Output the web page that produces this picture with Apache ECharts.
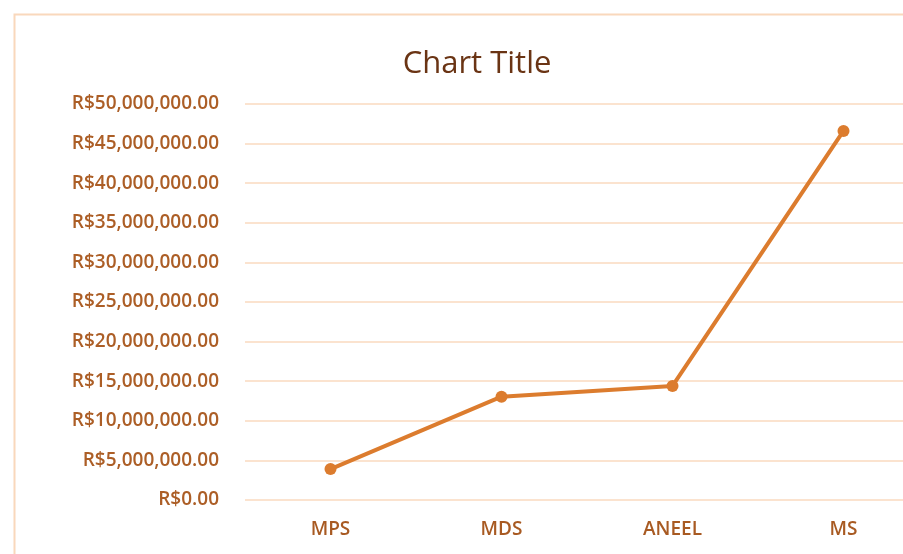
<!DOCTYPE html>
<html><head><meta charset="utf-8">
<script src="https://cdn.jsdelivr.net/npm/echarts@6/dist/echarts.min.js"></script>
<style>html,body{margin:0;padding:0;background:#fff}#c{width:903px;height:554px}</style>
</head><body><div id="c"></div>
<script>
const categories = ["MPS", "MDS", "ANEEL", "MS"];
const values = [3900000, 13050000, 14400000, 46600000];
const yMin = 0, yMax = 50000000, yStep = 5000000;
const title = "Chart Title";

function fmt(v){
  return "R$" + v.toLocaleString("en-US",{minimumFractionDigits:2,maximumFractionDigits:2});
}
const chart = echarts.init(document.getElementById('c'));
chart.setOption({
  backgroundColor:'#ffffff',
  animation:false,
  graphic:[{type:'rect',shape:{x:14.5,y:14.5,width:1000,height:1000},style:{fill:'none',stroke:'#f9d8bc',lineWidth:2},silent:true}],
  title:{text:title,left:472,top:44,textAlign:'center',textStyle:{fontFamily:'Open Sans',fontSize:31,fontWeight:'normal',color:'#6a3414'}},
  grid:{left:245,width:684,top:104,height:396,containLabel:false,outerBoundsMode:'none'},
  xAxis:{type:'category',data:categories,boundaryGap:true,
    axisLine:{show:false},axisTick:{show:false},
    axisLabel:{margin:20,fontFamily:'Open Sans',fontSize:19,fontWeight:600,color:'#a85a22'}},
  yAxis:{type:'value',min:yMin,max:yMax,interval:yStep,
    axisLine:{show:false},axisTick:{show:false},
    splitLine:{lineStyle:{color:'#fbe3cf',width:2}},
    axisLabel:{margin:26,fontFamily:'Open Sans',fontSize:19,fontWeight:600,color:'#ac5e26',formatter:fmt}},
  series:[{type:'line',data:values,symbol:'circle',symbolSize:12,
    lineStyle:{color:'#dc7c2e',width:4},itemStyle:{color:'#dc7c2e'}}]
});
</script></body></html>
